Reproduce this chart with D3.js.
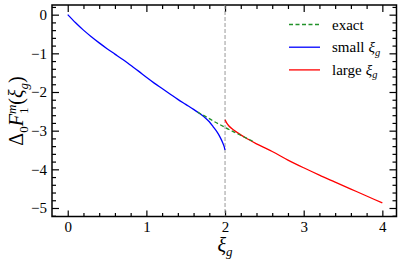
<!DOCTYPE html>
<html><head><meta charset="utf-8">
<script src="https://cdn.jsdelivr.net/npm/d3@7"></script>
<style>body{margin:0;background:#fff}svg{display:block}</style>
</head><body>
<svg id="c" width="404" height="265"></svg>
<script>
const xTicks=[0,1,2,3,4];
const yTicks=[0,-1,-2,-3,-4,-5];
const smallX=[0,0.1,0.2,0.3,0.4,0.5,0.6,0.7,0.8,0.9,1.0,1.1,1.2,1.3,1.4,1.5,1.6,1.7,1.75,1.8,1.85,1.9,1.94,1.97,1.99,2.0];
const smallY=[0,-0.21,-0.40,-0.57,-0.73,-0.88,-1.02,-1.16,-1.31,-1.46,-1.62,-1.77,-1.91,-2.05,-2.19,-2.32,-2.45,-2.59,-2.67,-2.77,-2.90,-3.04,-3.18,-3.31,-3.42,-3.50];
const largeX=[2.0,2.02,2.05,2.1,2.15,2.2,2.3,2.4,2.5,2.6,2.8,3.0,3.2,3.4,3.6,3.8,4.0];
const largeY=[-2.72,-2.80,-2.88,-2.97,-3.04,-3.11,-3.23,-3.34,-3.44,-3.54,-3.76,-3.96,-4.15,-4.33,-4.51,-4.69,-4.87];
const exactX=[1.65,1.75,1.85,1.95,2.05,2.15,2.25,2.35];
const exactY=[-2.52,-2.63,-2.75,-2.86,-2.97,-3.07,-3.17,-3.27];

const svg=d3.select('#c');
const L=52,R=396.5,T=5,B=216.5;
const x=d3.scaleLinear().domain([-0.2,4.18]).range([L,R]);
const y=d3.scaleLinear().domain([0.25,-5.22]).range([T,B]);
const serif='"Liberation Serif","Times New Roman",serif';

svg.append('defs').append('clipPath').attr('id','clip').append('rect')
  .attr('x',L).attr('y',T).attr('width',R-L).attr('height',B-T);

const minorX=d3.range(-0.2,4.19,0.2).map(v=>+v.toFixed(1)).filter(v=>!xTicks.includes(v)&&v>-0.2);
const minorY=d3.range(0.2,-5.21,-0.2).map(v=>+v.toFixed(1)).filter(v=>!yTicks.includes(v));

function styleAxis(g){g.select('.domain').remove();g.selectAll('line').attr('stroke','#000').attr('stroke-width',1.2);
  g.selectAll('text').attr('font-family',serif).attr('font-size',15).attr('fill','#000');}

svg.append('g').attr('transform',`translate(0,${B})`)
  .call(d3.axisBottom(x).tickValues(xTicks).tickSizeInner(-6).tickSizeOuter(0).tickPadding(5).tickFormat(d3.format('d'))).call(styleAxis);
svg.append('g').attr('transform',`translate(0,${B})`)
  .call(d3.axisBottom(x).tickValues(minorX).tickSizeInner(-3.5).tickSizeOuter(0).tickFormat('')).call(styleAxis);
svg.append('g').attr('transform',`translate(0,${T})`)
  .call(d3.axisTop(x).tickValues(xTicks).tickSizeInner(-7).tickSizeOuter(0).tickFormat('')).call(styleAxis);
svg.append('g').attr('transform',`translate(0,${T})`)
  .call(d3.axisTop(x).tickValues(minorX).tickSizeInner(-4).tickSizeOuter(0).tickFormat('')).call(styleAxis);
svg.append('g').attr('transform',`translate(${L},0)`)
  .call(d3.axisLeft(y).tickValues(yTicks).tickSizeInner(-7).tickSizeOuter(0).tickPadding(5).tickFormat(d3.format('d'))).call(styleAxis);
svg.append('g').attr('transform',`translate(${L},0)`)
  .call(d3.axisLeft(y).tickValues(minorY).tickSizeInner(-4).tickSizeOuter(0).tickFormat('')).call(styleAxis);
svg.append('g').attr('transform',`translate(${R},0)`)
  .call(d3.axisRight(y).tickValues(yTicks).tickSizeInner(-7).tickSizeOuter(0).tickFormat('')).call(styleAxis);
svg.append('g').attr('transform',`translate(${R},0)`)
  .call(d3.axisRight(y).tickValues(minorY).tickSizeInner(-4).tickSizeOuter(0).tickFormat('')).call(styleAxis);

svg.append('rect').attr('x',L).attr('y',T).attr('width',R-L).attr('height',B-T)
  .attr('fill','none').attr('stroke','#000').attr('stroke-width',1.5);

const plot=svg.append('g').attr('clip-path','url(#clip)');
plot.append('line').attr('x1',x(2)).attr('x2',x(2)).attr('y1',T).attr('y2',B)
  .attr('stroke','#999').attr('stroke-width',1).attr('stroke-dasharray','4,2');

const line=d3.line().x(d=>x(d[0])).y(d=>y(d[1])).curve(d3.curveMonotoneX);
const zip=(a,b)=>a.map((v,i)=>[v,b[i]]);
plot.append('path').attr('d',line(zip(smallX,smallY))).attr('fill','none').attr('stroke','#0000ff').attr('stroke-width',1.3);
plot.append('path').attr('d',line(zip(largeX,largeY))).attr('fill','none').attr('stroke','#ff0000').attr('stroke-width',1.3);
plot.append('path').attr('d',line(zip(exactX,exactY))).attr('fill','none').attr('stroke','#22922a').attr('stroke-width',1.3).attr('stroke-dasharray','4,2.5');

// legend
const leg=[{c:'#22922a',d:'4,2.5',t:'exact'},{c:'#0000ff',d:null,t:'small'},{c:'#ff0000',d:null,t:'large'}];
leg.forEach((e,i)=>{
  const yy=24.5+i*22.7;
  svg.append('line').attr('x1',289).attr('x2',320).attr('y1',yy).attr('y2',yy)
    .attr('stroke',e.c).attr('stroke-width',1.3).attr('stroke-dasharray',e.d);
  const t=svg.append('text').attr('x',332).attr('y',yy+5).attr('font-family',serif).attr('font-size',15).attr('fill','#000');
  t.append('tspan').text(e.t);
  if(i>0){
    t.append('tspan').attr('dx',4).attr('font-style','italic').text('ξ');
    t.append('tspan').attr('dy',3.5).attr('font-size',10.5).attr('font-style','italic').text('g');
  }
});

// x label
const xl=svg.append('text').attr('x',x(2)).attr('y',252).attr('text-anchor','middle')
  .attr('font-family',serif).attr('font-size',20).attr('fill','#000');
xl.append('tspan').attr('font-style','italic').text('ξ');
xl.append('tspan').attr('dy',4).attr('font-size',13).attr('font-style','italic').text('g');

// y label
const yl=svg.append('text').attr('transform','translate(23,111) rotate(-90)').attr('text-anchor','middle')
  .attr('font-family',serif).attr('font-size',20).attr('fill','#000');
yl.append('tspan').text('Δ');
yl.append('tspan').attr('dy',5).attr('font-size',13).text('0');
yl.append('tspan').attr('dy',-5).attr('font-style','italic').text('F');
yl.append('tspan').attr('dy',5).attr('font-size',13).text('1');
yl.append('tspan').attr('dx',-6.5).attr('dy',-12).attr('font-size',13).attr('font-style','italic').text('m');
yl.append('tspan').attr('dy',7).text('(');
yl.append('tspan').attr('font-style','italic').text('ξ');
yl.append('tspan').attr('dy',5).attr('font-size',13).attr('font-style','italic').text('g');
yl.append('tspan').attr('dy',-5).text(')');
</script>
</body></html>
